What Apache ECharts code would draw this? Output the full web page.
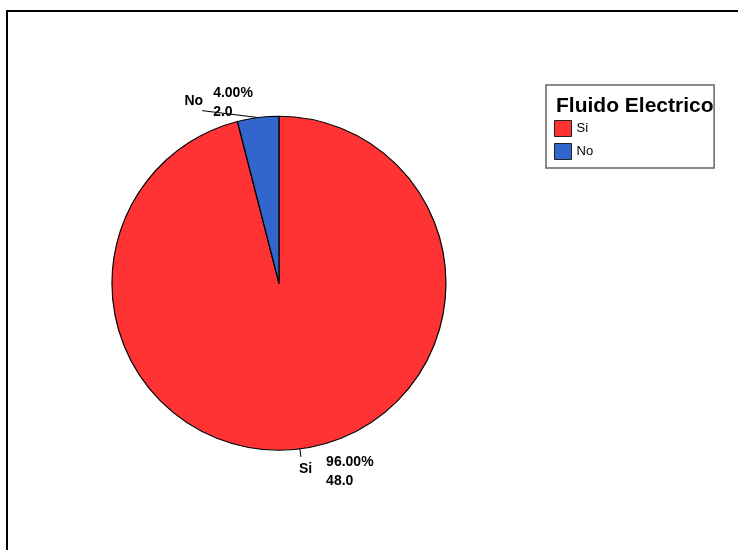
<!DOCTYPE html>
<html>
<head>
<meta charset="UTF-8">
<title>Fluido Electrico</title>
<script src="https://cdn.jsdelivr.net/npm/echarts@6/dist/echarts.min.js"></script>
<style>
	html, body { margin: 0; padding: 0; background: #fff; }
	#main { width: 738px; height: 550px; }
</style>
</head>
<body>
	<div id="main"></div>
<script>
	// data
	var categories = ["Si", "No"];
	var counts = [48, 2];
	var colors = ["#FF3333", "#3366CC"];
	var legendTitle = "Fluido Electrico";

	// label line lengths per slice
	var lineLen = [8, 7];
	var lineLen2 = [0, 55];

	var labelFont = "bold 14px Arial";
	var centerPct = ["37.8%", "51.5%"];
	var radius = 167;

	var chartDom = document.getElementById("main");
	var myChart = echarts.init(chartDom, null, { renderer: "canvas" });

	var measureCtx = document.createElement("canvas").getContext("2d");
	measureCtx.font = labelFont;
	function textWidth(s) { return measureCtx.measureText(s).width; }

	function pieCx() { return myChart.getWidth() * parseFloat(centerPct[0]) / 100; }
	function pieCy() { return myChart.getHeight() * parseFloat(centerPct[1]) / 100; }

	function buildData(withColor) {
		var arr = [];
		for (var i = 0; i < categories.length; i++) {
			arr.push({
				name: categories[i],
				value: counts[i],
				itemStyle: withColor ? { color: colors[i] } : { color: "rgba(0,0,0,0)", borderWidth: 0 },
				labelLine: { length: lineLen[i], length2: lineLen2[i] }
			});
		}
		return arr;
	}

	/* name labels: sit at the end of the guide line */
	function nameLayout(p) {
		var pts = p.labelLinePoints;
		if (!pts) return {};
		var start = pts[0];
		var end = pts[pts.length - 1];
		var right = end[0] > pieCx();
		var up = end[1] < pieCy();
		// upper label: one straight stroke from the slice edge, as in the original
		var linePts = up ? [start, start, end] : pts;
		return {
			x: right ? end[0] - 2 : end[0] + 1,
			y: up ? end[1] - 2 : end[1] + 5,
			align: right ? "left" : "right",
			verticalAlign: up ? "bottom" : "top",
			labelLinePoints: linePts
		};
	}

	/* percent / count block next to the name */
	function valueLayout(p) {
		var pts = p.labelLinePoints;
		if (!pts) return {};
		var end = pts[pts.length - 1];
		var right = end[0] > pieCx();
		var up = end[1] < pieCy();
		var nameMidY = up ? end[1] - 2 - 8 : end[1] + 5 + 8;
		var x = right ? end[0] - 2 + textWidth(categories[p.dataIndex]) + 14 : end[0] + 11;
		return {
			x: x,
			y: nameMidY + 2,
			align: "left",
			verticalAlign: "middle"
		};
	}

	var option = {
		backgroundColor: "#fff",
		animation: false,
		title: {
			text: legendTitle,
			left: 556,
			top: 96,
			padding: 0,
			textStyle: { fontFamily: "Arial", fontSize: 21, fontWeight: "bold", color: "#000" }
		},
		legend: {
			data: categories,
			orient: "vertical",
			left: 546,
			top: 85,
			padding: [35, 121, 8, 8],
			itemGap: 6,
			itemWidth: 17,
			itemHeight: 16,
			icon: "rect",
			borderColor: "#666",
			borderWidth: 1.5,
			borderRadius: 0,
			itemStyle: { borderColor: "#222", borderWidth: 1 },
			textStyle: { fontFamily: "Arial", fontSize: 13, color: "#000" },
			selectedMode: false
		},
		graphic: [{
			type: "rect",
			shape: { x: 7, y: 11, width: 900, height: 700 },
			style: { fill: "none", stroke: "#000", lineWidth: 2 },
			silent: true,
			z: 100
		}],
		series: [{
			name: legendTitle,
			type: "pie",
			center: centerPct,
			radius: radius,
			startAngle: 90,
			clockwise: true,
			avoidLabelOverlap: false,
			itemStyle: { borderColor: "#000", borderWidth: 1.2 },
			label: {
				show: true,
				position: "outside",
				formatter: "{b}",
				color: "#000",
				fontFamily: "Arial",
				fontSize: 14,
				fontWeight: "bold"
			},
			labelLine: { show: true, smooth: false, lineStyle: { color: "#000", width: 1 } },
			labelLayout: nameLayout,
			emphasis: { disabled: true },
			data: buildData(true)
		}, {
			name: "values",
			type: "pie",
			center: centerPct,
			radius: radius,
			startAngle: 90,
			clockwise: true,
			avoidLabelOverlap: false,
			silent: true,
			label: {
				show: true,
				position: "outside",
				formatter: function (p) {
					return p.percent.toFixed(2) + "%\n" + p.value.toFixed(1);
				},
				color: "#000",
				fontFamily: "Arial",
				fontSize: 14,
				fontWeight: "bold",
				lineHeight: 19
			},
			labelLine: { show: true, lineStyle: { opacity: 0 } },
			labelLayout: valueLayout,
			emphasis: { disabled: true },
			data: buildData(false)
		}]
	};
	myChart.setOption(option);
</script>
</body>
</html>
